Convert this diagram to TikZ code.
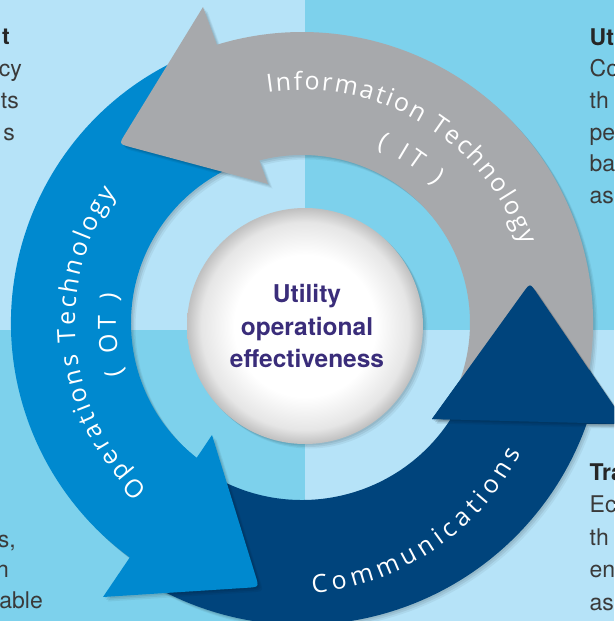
\documentclass[tikz,border=0pt]{standalone}
\usepackage{fontspec}
\setmainfont{TeX Gyre Heros}
\newfontfamily\ringfont{Open Sans}
\usetikzlibrary{calc,decorations.text}

\definecolor{paleblue}{RGB}{182,227,248}
\definecolor{skyblue}{RGB}{125,209,236}
\definecolor{otblue}{RGB}{0,137,207}
\definecolor{itgray}{RGB}{167,169,172}
\definecolor{commnavy}{RGB}{0,68,124}
\definecolor{hubink}{RGB}{58,45,122}
\definecolor{noteink}{RGB}{58,58,58}

%% white ball with a grey rim
\pgfdeclareradialshading{hubball}{\pgfpoint{0bp}{0bp}}{%
  color(0bp)=(white); color(15bp)=(white); color(22bp)=(black!10);
  color(25bp)=(black!25); color(50bp)=(black!25)}

\newcommand{\ringsize}{\ringfont\fontsize{25}{25}\selectfont}

\begin{document}
\begin{tikzpicture}
[x=1pt,y=1pt,
  note/.style={inner sep=0pt,font=\fontsize{23}{23}\selectfont,text=noteink},
  notehead/.style={inner sep=0pt,font=\fontsize{23}{23}\selectfont\bfseries,text=black!85},
  softshadow/.style={
    preaction={fill=black,fill opacity=.07,transform canvas={xshift=1.5pt,yshift=-1.5pt}},
    preaction={fill=black,fill opacity=.07,transform canvas={xshift=3pt,yshift=-3pt}},
    preaction={fill=black,fill opacity=.05,transform canvas={xshift=4.5pt,yshift=-4.5pt}}},
  ringlabel/.style={decorate,decoration={text along path,text color=white,
    text align={fit to path},text={|\ringsize|#1}}}]
\useasboundingbox (0,0) rectangle (614,-621);
\clip (0,0) rectangle (614,-621);
%% background quarters
\foreach \col/\xa/\ya/\xb/\yb in {paleblue/0/0/305/-330, skyblue/305/0/614/-330,
  skyblue/0/-330/305/-621, paleblue/305/-330/614/-621} {
  \fill[\col] (\xa,\ya) rectangle (\xb,\yb);
}
\coordinate (C) at (302,-323);
\coordinate (N) at (290,-335);
%% arrow heads: barb, tip, barb
\coordinate (nl) at (432,-419); \coordinate (ntip) at (530,-283); \coordinate (nr) at (626,-424);
\coordinate (bo) at (103,-597); \coordinate (btip) at (259,-587); \coordinate (bi) at (212,-435);
\coordinate (go) at (203,-7);   \coordinate (gtip) at (119,-144); \coordinate (gi) at (268,-184);
%% navy arrow (communications)
\fill[commnavy,softshadow] ($(C)+(240:302)$) arc[start angle=240,end angle=340.5,radius=302]
  -- (nr) -- ($(ntip)!12pt!(nr)$) .. controls (ntip) .. ($(ntip)!12pt!(nl)$) -- (nl)
  -- ($(C)+(327:177)$) arc[start angle=327,end angle=240,radius=177] -- cycle;
%% blue arrow (OT)
\fill[otblue,softshadow] ($(C)+(112:291)$) arc[start angle=112,end angle=233.7,radius=291]
  -- (bo) -- ($(btip)!12pt!(bo)$) .. controls (btip) .. ($(btip)!12pt!(bi)$) -- (bi)
  -- ($(C)+(232:171)$) arc[start angle=232,end angle=112,radius=171] -- cycle;
%% grey arrow (IT)
\fill[itgray,softshadow] ($(C)+(-17:291)$) arc[start angle=-17,end angle=107,radius=291]
  -- (go) -- ($(gtip)!12pt!(go)$) .. controls (gtip) .. ($(gtip)!12pt!(gi)$) -- (gi)
  -- ($(C)+(104.7:168)$) arc[start angle=104.7,end angle=-22,radius=168] -- cycle;
%% navy head again, it sits on the grey tail
\fill[commnavy,softshadow] (nl) -- ($(ntip)!12pt!(nl)$) .. controls (ntip) .. ($(ntip)!12pt!(nr)$)
  -- (nr) -- cycle;
%% ring labels
\path[ringlabel={Information Technology}] ($(C)+(98.5:233)$)
  arc[start angle=98.5,end angle=19.5,radius=233];
\path[ringlabel={( IT )}] ($(C)+(67:191)$) arc[start angle=67,end angle=46,radius=191];
\path[ringlabel={Operations Technology}] ($(C)+(227:227)$)
  arc[start angle=227,end angle=145,radius=227];
\path[ringlabel={( OT )}] ($(C)+(196:186)$) arc[start angle=196,end angle=171,radius=186];
\path[ringlabel={Communications}] ($(N)+(275:259)$)
  arc[start angle=275,end angle=333,radius=259];
%% hub
\node (hub) [circle,minimum size=236pt,inner sep=0pt,shading=hubball,softshadow] at (305,-326) {};
\node (hubtext) [align=center,font=\fontsize{24.5}{32.5}\selectfont\bfseries,
  text=hubink] at (307,-326) {Utility\\operational\\effectiveness};
%% side notes, cut by the frame
\node (tlhead) [notehead,anchor=base east] at (10,-44) {t};
\foreach \name/\txt/\x/\y in {tla/cy/22/76, tlb/ts/19/108, tlc/s/15/140,
  bla/{s,}/16/547, blb/n/9/577.5, blc/able/43/608}
  \node (\name) [note,anchor=base east] at (\x,-\y) {\txt};
\node (trhead) [notehead,anchor=base west] at (589.5,-45) {Ut};
\node (brhead) [notehead,anchor=base west] at (589.5,-480) {Tra};
\foreach \name/\txt/\y in {tra/Co/76.7, trb/th/108.4, trc/pe/140, trd/ba/171.8,
  tre/as/203.5, bra/Ec/512.5, brb/th/545, brc/en/577.5, brd/as/610}
  \node (\name) [note,anchor=base west] at (589.5,-\y) {\txt};
\end{tikzpicture}
\end{document}
